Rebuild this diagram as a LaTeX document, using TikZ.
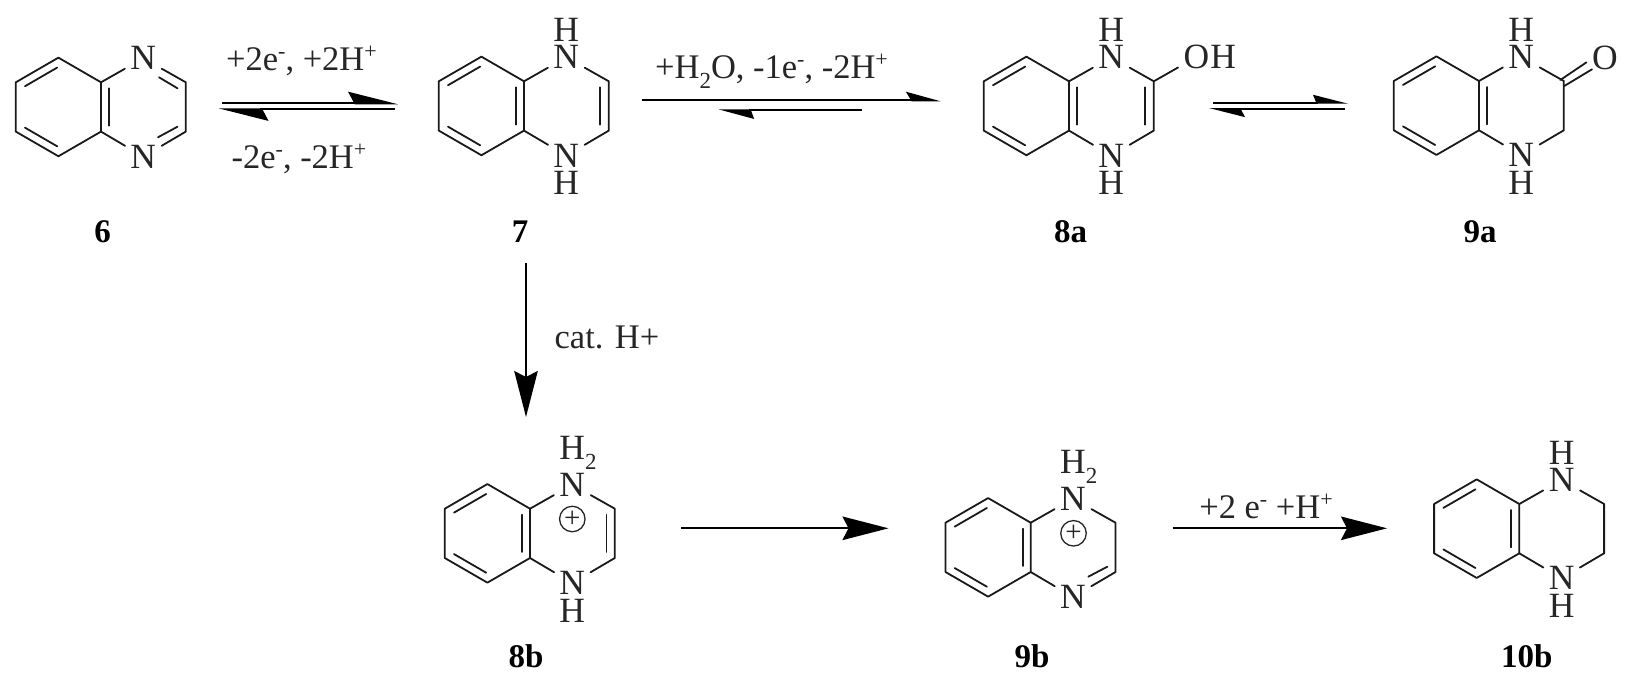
\documentclass[tikz,border=0pt]{standalone}
\usepackage{fontspec}
\setmainfont{Liberation Serif}
\usetikzlibrary{arrows.meta,calc}
\newcommand{\atomfont}{\fontsize{35.5}{40}\selectfont}
\newcommand{\rxnfont}{\fontsize{34.5}{40}\selectfont}
\newcommand{\subsc}[1]{\raisebox{-10pt}{\fontsize{23}{24}\selectfont #1}}
\newcommand{\supsc}[1]{\raisebox{12pt}{\fontsize{22}{24}\selectfont #1}}
\newcommand{\Htwo}{H\rlap{\smash{\subsc{2}}}}
\tikzset{
  bond/.style={line width=1.8pt,line join=round,line cap=round,black!90},
  atom/.style={circle,inner sep=0pt,minimum size=42pt,font=\atomfont,text=black!85},
  rxn/.style={anchor=base,inner sep=0pt,font=\rxnfont,text=black!85},
  cmpd/.style={anchor=base,inner sep=0pt,font=\fontsize{33}{36}\selectfont\bfseries,text=black},
  charge/.style={circle,draw,line width=1.3pt,black!85,inner sep=0pt,minimum size=25.5pt,font=\fontsize{29}{30}\selectfont},
  arrowline/.style={line width=1.9pt,black},
  fullhead/.style={-{Stealth[length=46pt,width=23.5pt,inset=6pt]}},
}
% prefix, fusion-top x, fusion-top y, x offset of the inner fused line
\newcommand{\quinox}[4]{%
  \begin{scope}[shift={(#2,#3)}]
    \coordinate (#1a) at (0,0);
    \coordinate (#1b) at (-42.6,-24.65);
    \coordinate (#1c) at (-85.2,0);
    \coordinate (#1d) at (-85.2,49.3);
    \coordinate (#1e) at (-42.6,73.95);
    \coordinate (#1f) at (0,49.3);
    \coordinate (#1r) at (84.8,0);
    \coordinate (#1s) at (84.8,49.3);
    \node[atom] (#1N1) at (42.3,-24) {N};
    \node[atom] (#1N4) at (42.3,74.3) {N};
    \draw[bond] (#1a) -- (#1b) -- (#1c) -- (#1d) -- (#1e) -- (#1f) -- cycle;
    \draw[bond] (-76,3.93) -- (-43.8,-14.72);
    \draw[bond] (-76,45.37) -- (-43.8,64.02);
    \draw[bond] (#4,6) -- (#4,43.3);
    \draw[bond] (#1a) -- (#1N1);
    \draw[bond] (#1f) -- (#1N4);
    \draw[bond] (#1N1) -- (#1r) -- (#1s) -- (#1N4);
  \end{scope}}
\begin{document}
\begin{tikzpicture}[x=1pt,y=-1pt]
\useasboundingbox (0,0) rectangle (1633,683);

% compound 6
\quinox{ma}{101}{82.3}{8}
\draw[bond] ($(maa)+(58,-5)$) -- ($(maa)+(76.5,6)$);
\draw[bond] ($(maa)+(57,55)$) -- ($(maa)+(76.5,44.4)$);
\node[cmpd] (l6) at (102.5,242) {6};

% compound 7
\quinox{mb}{524}{81.3}{-8}
\draw[bond] ($(mba)+(76,6)$) -- ($(mba)+(76,43.3)$);
\node[atom] (mbH1) at ($(mbN1)+(0,-27.5)$) {H};
\node[atom] (mbH4) at ($(mbN4)+(0,27.7)$) {H};
\node[cmpd] (l7) at (520,242) {7};

% compound 8a
\quinox{mc}{1069}{81.3}{8}
\draw[bond] ($(mca)+(76,6)$) -- ($(mca)+(76,43.3)$);
\node[atom] (mcH1) at ($(mcN1)+(0,-27.5)$) {H};
\node[atom] (mcH4) at ($(mcN4)+(0,27.7)$) {H};
\node[atom] (mcO) at (1196.5,57) {O\rlap{\kern1pt H}};
\draw[bond] (mcr) -- (mcO);
\node[cmpd] (l8a) at (1070.7,242) {8a};

% compound 9a
\quinox{md}{1479}{81}{8}
\node[atom] (mdH1) at ($(mdN1)+(0,-27.5)$) {H};
\node[atom] (mdH4) at ($(mdN4)+(0,27.7)$) {H};
\node[atom] (mdO) at (1605,58.3) {O};
\draw[bond] ($(mdr)+(-3.5,-1)$) -- ($(mdO)+(-18.5,4)$);
\draw[bond] ($(mdr)+(0.5,5)$) -- ($(mdO)+(-13,11)$);
\node[cmpd] (l9a) at (1480,242) {9a};

% compound 8b
\quinox{me}{530}{508.7}{-8}
\draw[bond] ($(mea)+(76.5,6)$) -- ($(mea)+(76.5,43.3)$);
\node[atom] (meH1) at ($(meN1)+(0,-36.7)$) {\Htwo};
\node[atom] (meH4) at ($(meN4)+(0,27.7)$) {H};
\node[charge] (meP) at (572.3,519) {+};
\node[cmpd] (l8b) at (526,667.5) {8b};

% compound 9b
\quinox{mf}{1030.7}{522.7}{-8}
\draw[bond] ($(mfa)+(57.6,54)$) -- ($(mfa)+(76.6,44)$);
\node[atom] (mfH1) at ($(mfN1)+(0,-36.7)$) {\Htwo};
\node[charge] (mfP) at (1073.5,533.3) {+};
\node[cmpd] (l9b) at (1032,667.5) {9b};

% compound 10b
\quinox{mg}{1519.3}{504}{-8}
\node[atom] (mgH1) at ($(mgN1)+(0,-27.5)$) {H};
\node[atom] (mgH4) at ($(mgN4)+(0,27.7)$) {H};
\node[cmpd] (l10b) at (1526.7,667.5) {10b};

% equilibrium 6 <-> 7
\coordinate (ab1) at (222,103.3);   \coordinate (ab2) at (398,103.3);
\coordinate (ba1) at (394.6,109.3); \coordinate (ba2) at (218.6,109.3);
\draw[arrowline,-{Stealth[harpoon,length=46pt,width=23pt,inset=6pt]}] (ab1) -- (ab2);
\draw[arrowline,-{Stealth[harpoon,length=46pt,width=23pt,inset=6pt]}] (ba1) -- (ba2);
\node[rxn] (t1) at (301.5,70) {+2e\supsc{-}, +2H\supsc{+}};
\node[rxn] (t2) at (299,168) {-2e\supsc{-}, -2H\supsc{+}};

% equilibrium 7 <-> 8a
\coordinate (bc1) at (641.6,100.3); \coordinate (bc2) at (940.5,100.3);
\coordinate (cb1) at (862,110.3);   \coordinate (cb2) at (718.4,110.3);
\draw[arrowline,-{Stealth[harpoon,length=31pt,width=17pt,inset=5pt]}] (bc1) -- (bc2);
\draw[arrowline,-{Stealth[harpoon,length=32pt,width=17pt,inset=3pt]}] (cb1) -- (cb2);
\node[rxn] (t3) at (771.5,78) {+H\subsc{2}O, -1e\supsc{-}, -2H\supsc{+}};

% equilibrium 8a <-> 9a
\coordinate (cd1) at (1213,102.7); \coordinate (cd2) at (1348,102.7);
\coordinate (dc1) at (1345,109);   \coordinate (dc2) at (1209,109);
\draw[arrowline,-{Stealth[harpoon,length=31pt,width=15.5pt,inset=3pt]}] (cd1) -- (cd2);
\draw[arrowline,-{Stealth[harpoon,length=32pt,width=16pt,inset=4pt]}] (dc1) -- (dc2);

% 7 -> 8b
\coordinate (be1) at (526,263); \coordinate (be2) at (526,417);
\draw[arrowline,fullhead] (be1) -- (be2);
\node[rxn] (t4) at (607,348) {cat. H+};

% 8b -> 9b
\coordinate (ef1) at (681,528.3); \coordinate (ef2) at (888.5,528.3);
\draw[arrowline,fullhead] (ef1) -- (ef2);

% 9b -> 10b
\coordinate (fg1) at (1172.5,528.3); \coordinate (fg2) at (1387,528.3);
\draw[arrowline,fullhead] (fg1) -- (fg2);
\node[rxn] (t5) at (1266,518) {+2 e\supsc{-} +H\supsc{+}};
\end{tikzpicture}
\end{document}
